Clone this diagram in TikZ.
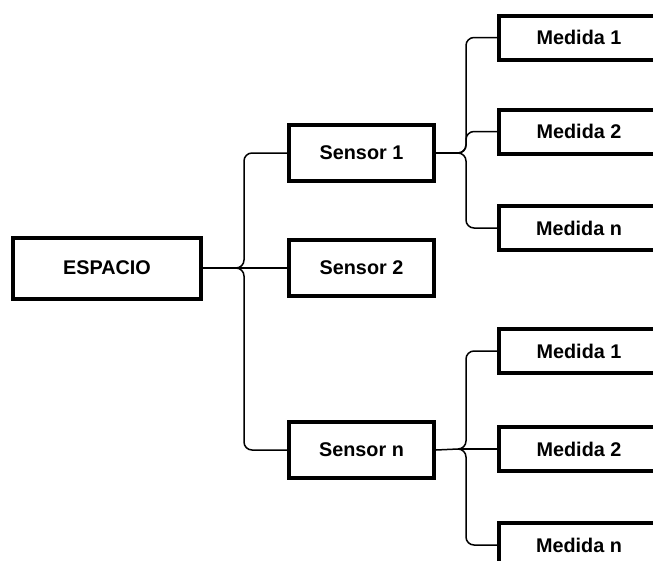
\documentclass[tikz,border=0pt]{standalone}
\usepackage{fontspec}
\setmainfont{Liberation Sans}
\begin{document}
\begin{tikzpicture}[x=1pt,y=-1pt,
  box/.style={draw=black,line width=4pt,fill=white,rectangle,inner sep=0pt,
    font=\fontsize{19.8}{22}\selectfont\bfseries},
  root/.style={box,minimum width=188pt,minimum height=61pt},
  sensorbox/.style={box,minimum width=145pt,minimum height=56pt},
  medbox/.style={box,minimum width=160pt,minimum height=44pt},
  link/.style={draw=black,line width=1.5pt,rounded corners=8pt}]
\useasboundingbox (0,0) rectangle (653,560);
\fill[white] (0,0) rectangle (653,560);
% nodes
\node[root] (esp) at (107,268) {ESPACIO};
\node[sensorbox] (s1) at (361.5,153) {Sensor 1};
\node[sensorbox] (s2) at (361.5,268) {Sensor 2};
\node[sensorbox] (sn) at (361.5,450) {Sensor n};
\node[medbox] (m11) at (579,37.5) {Medida 1};
\node[medbox] (m12) at (579,131.5) {Medida 2};
\node[medbox] (m1n) at (579,228) {Medida n};
\node[medbox] (m21) at (579,351) {Medida 1};
\node[medbox] (m22) at (579,449) {Medida 2};
\node[medbox] (m2n) at (579,545) {Medida n};
% junction coordinates
\coordinate (j0) at (244,268);
\coordinate (j0l) at (236,268);
\coordinate (j1) at (466,153);
\coordinate (j1l) at (458,153);
\coordinate (j2) at (466,449);
\coordinate (j2l) at (458,449);
% espacio -> sensors
\draw[link] (esp.east) -- (s2.west);
\draw[link] (s1.west) -| (j0) -- (j0l);
\draw[link] (sn.west) -| (j0) -- (j0l);
% sensor 1 -> medidas
\draw[link] (s1.east) -- (j1l);
\draw[link] (m11.west) -| (j1) -- (j1l);
\draw[link] (m12.west) -| (j1) -- (j1l);
\draw[link] (m1n.west) -| (j1) -- (j1l);
% sensor n -> medidas
\draw[link] (sn.east) -- (j2l);
\draw[link] (m21.west) -| (j2) -- (j2l);
\draw[link] (m22.west) -- (j2l);
\draw[link] (m2n.west) -| (j2) -- (j2l);
\end{tikzpicture}
\end{document}
